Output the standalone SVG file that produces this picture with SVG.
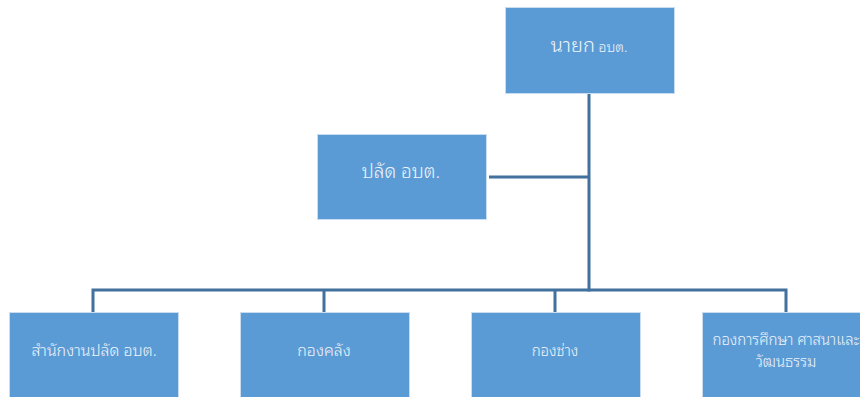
<svg xmlns="http://www.w3.org/2000/svg" width="860" height="397" viewBox="0 0 860 397">
<style>
.box{fill:#5B9BD5;stroke:#C9DCF0;stroke-width:1}
.t{fill:#EEF4FB;font-family:"Noto Sans Thai Looped","Noto Sans Thai","Noto Sans","Liberation Sans",sans-serif;font-weight:300;text-anchor:middle}
.c{stroke:#41719C;stroke-width:3;fill:none}
</style>
<rect width="860" height="397" fill="#FFFFFF"/>
<g id="connectors">
<path class="c" d="M589,93 V291.5"/>
<path class="c" d="M489,177 H589"/>
<path class="c" d="M93,312 V290 H786 V312"/>
<path class="c" d="M324,290 V312"/>
<path class="c" d="M555,290 V312"/>
</g>
<g id="n_mayor">
<rect class="box" x="505.5" y="7.5" width="169" height="86"/>
<text class="t" x="589" y="52"><tspan font-size="20">นายก</tspan><tspan font-size="14"> อบต.</tspan></text>
</g>
<g id="n_palad">
<rect class="box" x="317.5" y="134.5" width="169" height="85"/>
<text class="t" x="401" y="178" font-size="19">ปลัด อบต.</text>
</g>
<g id="n_office">
<rect class="box" x="9.5" y="312.5" width="169" height="90"/>
<text class="t" x="94" y="356" font-size="16">สำนักงานปลัด อบต.</text>
</g>
<g id="n_finance">
<rect class="box" x="240.5" y="312.5" width="169" height="90"/>
<text class="t" x="324" y="356" font-size="16">กองคลัง</text>
</g>
<g id="n_works">
<rect class="box" x="471.5" y="312.5" width="169" height="90"/>
<text class="t" x="555" y="356" font-size="15">กองช่าง</text>
</g>
<g id="n_edu">
<rect class="box" x="702.5" y="312.5" width="169" height="90"/>
<text class="t" x="786" y="345" font-size="15">กองการศึกษา ศาสนาและ</text>
<text class="t" x="786" y="367" font-size="15">วัฒนธรรม</text>
</g>
</svg>
